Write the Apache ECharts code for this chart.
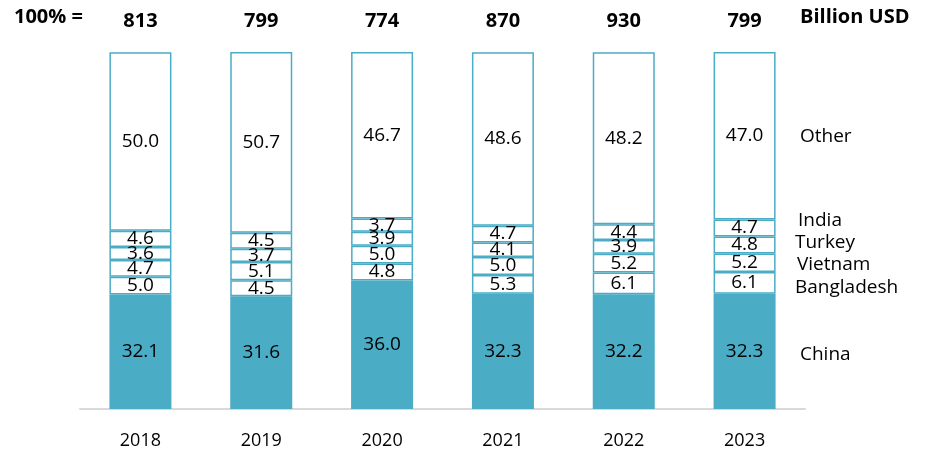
<!DOCTYPE html>
<html>
<head>
<meta charset="utf-8">
<script src="https://cdn.jsdelivr.net/npm/echarts@6/dist/echarts.min.js"></script>
<style>
  html, body { margin: 0; padding: 0; background: #fff; }
  #main { width: 925px; height: 468px; }
</style>
</head>
<body>
<div id="main"></div>
<script>
// 年份与总额（十亿美元）
var years = ['2018', '2019', '2020', '2021', '2022', '2023'];
var totals = [813, 799, 774, 870, 930, 799];

// 各国份额（%），自下而上
var china = [32.1, 31.6, 36.0, 32.3, 32.2, 32.3];
var bangladesh = [5.0, 4.5, 4.8, 5.3, 6.1, 6.1];
var vietnam = [4.7, 5.1, 5.0, 5.0, 5.2, 5.2];
var turkey = [3.6, 3.7, 3.9, 4.1, 3.9, 4.8];
var india = [4.6, 4.5, 3.7, 4.7, 4.4, 4.7];
var other = [50.0, 50.7, 46.7, 48.6, 48.2, 47.0];

var TEAL = '#4BACC6';
var FONT = '"Open Sans", "Noto Sans", sans-serif';
var BOLD = '"Liberation Sans Narrow", "Open Sans", sans-serif';

function makeSeries(name, data, filled) {
    return {
        name: name,
        type: 'bar',
        stack: 'share',
        barWidth: 62,
        data: data,
        itemStyle: {
            color: filled ? TEAL : '#fff',
            borderColor: TEAL,
            borderWidth: 1.5
        },
        label: {
            show: true,
            position: 'inside',
            color: '#000',
            fontSize: 19,
            fontFamily: FONT,
            formatter: function (p) { return p.value.toFixed(1); }
        }
    };
}

var chart = echarts.init(document.getElementById('main'));
var option = {
    animation: false,
    grid: { left: 80, right: 120, top: 52, bottom: 59 },
    xAxis: [{
        type: 'category',
        data: years,
        axisLine: { lineStyle: { color: '#d9d9d9', width: 2 } },
        axisTick: { show: false },
        axisLabel: { color: '#000', fontSize: 18, fontFamily: FONT, margin: 23 }
    }, {
        type: 'category',
        position: 'top',
        data: years,
        axisLine: { show: false },
        axisTick: { show: false },
        axisLabel: {
            color: '#000', fontSize: 20, fontWeight: 'bold',
            fontFamily: BOLD, margin: 21,
            formatter: function (v, i) { return totals[i]; }
        }
    }],
    yAxis: {
        type: 'value',
        min: 0,
        max: 100.1,
        show: false
    },
    series: [
        makeSeries('China', china, true),
        makeSeries('Bangladesh', bangladesh, false),
        makeSeries('Vietnam', vietnam, false),
        makeSeries('Turkey', turkey, false),
        makeSeries('India', india, false),
        makeSeries('Other', other, false)
    ],
    graphic: [
        { type: 'text', left: 14, top: 7, style: { text: '100% =', fontSize: 20, fontWeight: 'bold', fontFamily: BOLD, fill: '#000' } },
        { type: 'text', left: 800, top: 7, style: { text: 'Billion USD', fontSize: 20, fontWeight: 'bold', fontFamily: BOLD, fill: '#000' } },
        { type: 'text', left: 800, top: 127, style: { text: 'Other', fontSize: 19, fontFamily: FONT, fill: '#000' } },
        { type: 'text', left: 798, top: 211, style: { text: 'India', fontSize: 19, fontFamily: FONT, fill: '#000' } },
        { type: 'text', left: 795, top: 233, style: { text: 'Turkey', fontSize: 19, fontFamily: FONT, fill: '#000' } },
        { type: 'text', left: 797, top: 255, style: { text: 'Vietnam', fontSize: 19, fontFamily: FONT, fill: '#000' } },
        { type: 'text', left: 795, top: 278, style: { text: 'Bangladesh', fontSize: 19, fontFamily: FONT, fill: '#000' } },
        { type: 'text', left: 800, top: 345, style: { text: 'China', fontSize: 19, fontFamily: FONT, fill: '#000' } }
    ]
};
chart.setOption(option);
</script>
</body>
</html>
